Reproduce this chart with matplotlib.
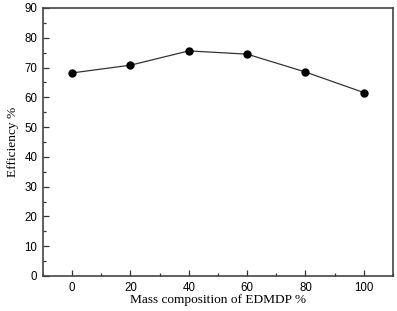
import matplotlib
matplotlib.use("Agg")
import matplotlib.pyplot as plt
from matplotlib.ticker import MultipleLocator

composition = [0, 20, 40, 60, 80, 100]
efficiency = [68.2, 70.8, 75.6, 74.5, 68.5, 61.6]

fig = plt.figure(figsize=(3.97, 3.11), dpi=100)
ax = fig.add_axes([43 / 397, 35 / 311, 350 / 397, 268 / 311])

ax.plot(composition, efficiency, '-', color='#333333', linewidth=0.9,
        marker='o', markersize=5, markerfacecolor='black', markeredgecolor='black')

ax.set_xlim(-10, 110)
ax.set_ylim(0, 90)
ax.xaxis.set_major_locator(MultipleLocator(20))
ax.xaxis.set_minor_locator(MultipleLocator(10))
ax.yaxis.set_major_locator(MultipleLocator(10))
ax.yaxis.set_minor_locator(MultipleLocator(5))

ax.tick_params(which='both', direction='in', top=False, right=False,
               width=0.9, color='#333333')
ax.tick_params(which='major', length=4, labelsize=8.3, pad=4)
ax.tick_params(which='minor', length=2)
for lbl in ax.get_xticklabels() + ax.get_yticklabels():
    lbl.set_family('Liberation Sans')

for s in ax.spines.values():
    s.set_color('#444444')
    s.set_linewidth(1.2)

ax.set_xlabel('Mass composition of EDMDP %', family='Liberation Serif', fontsize=9.6, labelpad=0)
ax.set_ylabel('Efficiency %', family='Liberation Serif', fontsize=9.6, labelpad=4)

fig.savefig('out.png', dpi=100)
